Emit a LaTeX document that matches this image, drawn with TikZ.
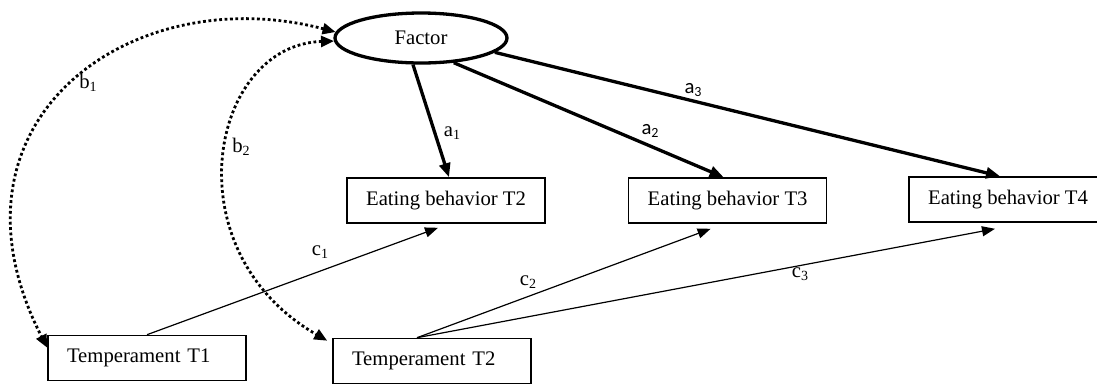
\documentclass[tikz,border=0pt]{standalone}
\usepackage{fontspec}
\setmainfont{Liberation Serif}
\newfontfamily\carlitofont{Carlito}
\usetikzlibrary{arrows.meta,shapes.geometric}
\newcommand{\sublbl}[2]{#1\raisebox{-0.12em}{\fontsize{14}{14}\selectfont #2}}
\begin{document}
\begin{tikzpicture}[x=1pt,y=-1pt,
  every node/.style={font=\fontsize{20.7}{24}\selectfont},
  boxnode/.style={draw, line width=1.6pt, minimum width=198pt, minimum height=45pt, inner sep=0pt},
  tempnode/.style={boxnode, text width=160pt, align=left, inner xsep=19pt},
  thickarr/.style={line width=3.3pt, -{Triangle[length=14pt,width=11pt]}},
  thinarr/.style={line width=1.2pt, -{Triangle[length=13pt,width=10pt]}},
  covarr/.style={line width=2.8pt, dash pattern=on 2.8pt off 2.6pt, {Triangle[length=13pt,width=11pt]}-{Triangle[length=13pt,width=11pt]}},
  lbl/.style={inner sep=0pt}
]
\clip (0,0) rectangle (1097,384);
\node[ellipse, draw, line width=3.3pt, minimum width=172pt, minimum height=50pt, inner sep=0pt] (F) at (421,38) {Factor};
\node[boxnode] (E2) at (446,200.5) {Eating behavior T2};
\node[boxnode] (E3) at (727.6,200.5) {Eating behavior T3};
\node[boxnode] (E4) at (1008,199.5) {Eating behavior T4};
\node[tempnode] (T1) at (147,358) {Temperament T1};
\node[tempnode] (T2) at (432,361) {Temperament T2};

\draw[thickarr] ([xshift=-8pt]F.south) -- ([xshift=3pt]E2.north);
\draw[thickarr] (F.-37) -- ([xshift=-4pt]E3.north);
\draw[thickarr] (F.-11) -- ([xshift=-8pt]E4.north);

\draw[thinarr] (T1.north) -- ([xshift=-8pt,yshift=-4pt]E2.south);
\draw[thinarr] ([xshift=-15pt]T2.north) -- ([xshift=-17pt,yshift=-5pt]E3.south);
\draw[thinarr] ([xshift=-15pt]T2.north) -- ([xshift=-13pt,yshift=-6pt]E4.south);

\draw[covarr] (F.176) .. controls (130,-22) and (-68,122) .. ([yshift=-13pt]T1.north west);
\draw[covarr] (F.182) .. controls (210,45) and (170,250) .. ([xshift=-5pt,yshift=-3pt]T2.north west);

\node[lbl] (la1) at (452,133) {\sublbl{a}{1}};
\node[lbl,font=\carlitofont\fontsize{20.7}{24}\selectfont] (la2) at (650,131) {\sublbl{a}{2}};
\node[lbl,font=\carlitofont\fontsize{20.7}{24}\selectfont] (la3) at (693,90) {\sublbl{a}{3}};
\node[lbl] (lb1) at (88,83) {\sublbl{b}{1}};
\node[lbl] (lb2) at (241,147) {\sublbl{b}{2}};
\node[lbl] (lc1) at (320,252) {\sublbl{c}{1}};
\node[lbl] (lc2) at (528,282) {\sublbl{c}{2}};
\node[lbl] (lc3) at (800,274) {\sublbl{c}{3}};
\end{tikzpicture}
\end{document}
